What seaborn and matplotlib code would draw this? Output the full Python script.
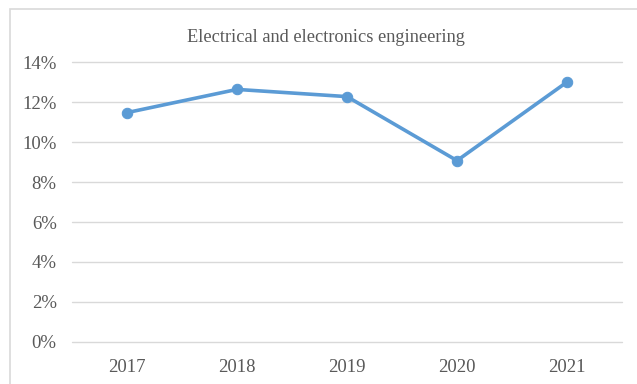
import matplotlib
matplotlib.use("Agg")
import matplotlib.pyplot as plt
from matplotlib.patches import Rectangle
from matplotlib.ticker import FuncFormatter, MultipleLocator
import seaborn as sns
import pandas as pd

years = ["2017", "2018", "2019", "2020", "2021"]
share = [0.1147, 0.1263, 0.1227, 0.0907, 0.1300]
title = "Electrical and electronics engineering"

sns.set_theme(style="white")
plt.rcParams["font.family"] = ["Liberation Serif", "DejaVu Serif"]

df = pd.DataFrame({"year": years, "share": share})

fig = plt.figure(figsize=(6.37, 3.84), dpi=100)
ax = fig.add_axes([0.113, 0.1094, 0.8635, 0.7291])

line_color = "#5B9BD5"
sns.lineplot(data=df, x="year", y="share", ax=ax, color=line_color,
             linewidth=2.6, marker="o", markersize=7.5,
             markeredgecolor=line_color, sort=False)

ax.set_ylim(0, 0.14)
ax.set_xlim(-0.5, 4.5)
ax.yaxis.set_major_locator(MultipleLocator(0.02))
ax.yaxis.set_major_formatter(FuncFormatter(lambda v, p: f"{v*100:.0f}%"))
ax.grid(axis="y", color="#d9d9d9", linewidth=1)
for gl in ax.get_ygridlines():
    gl.set_clip_on(False)
ax.set_axisbelow(True)
for s in ax.spines.values():
    s.set_visible(False)
ax.set_xlabel("")
ax.set_ylabel("")
ax.tick_params(axis="both", length=0, labelsize=13.5, colors="#595959")
ax.tick_params(axis="x", pad=12)
ax.tick_params(axis="y", pad=11)

fig.text(0.512, 0.903, title, ha="center", va="center",
         fontsize=13.2, color="#595959")

# chart frame
fig.patches.append(Rectangle((10 / 637, -0.05), 1.0, 1 - 9 / 384 + 0.05,
                             transform=fig.transFigure, fill=False,
                             edgecolor="#d9d9d9", linewidth=1.2))

fig.savefig("out.png", dpi=100)
